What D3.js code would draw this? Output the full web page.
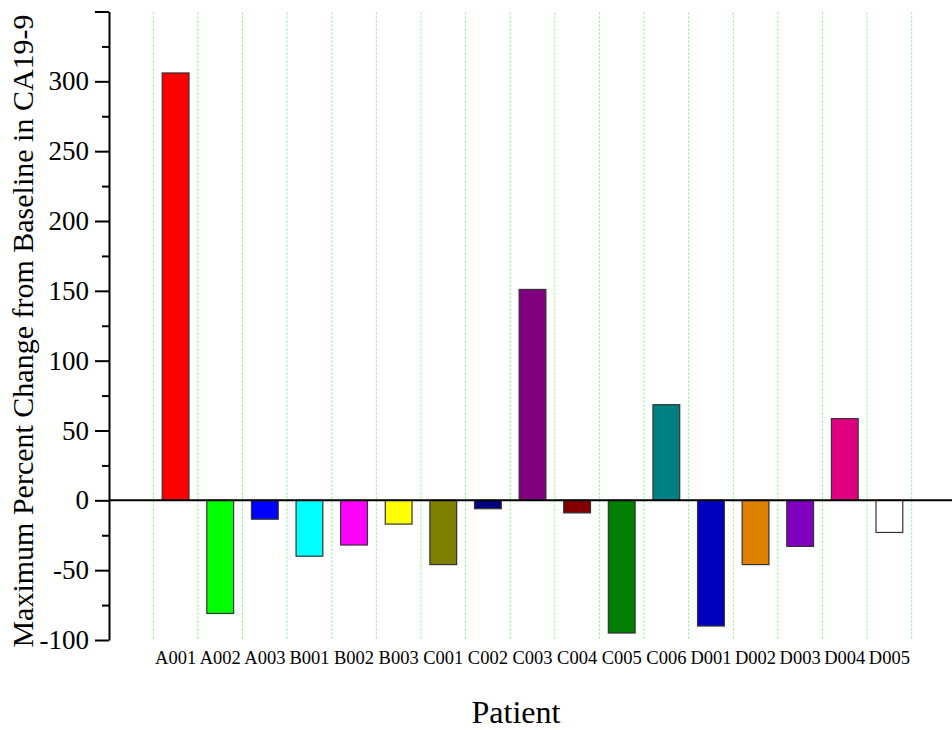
<!DOCTYPE html>
<html>
<head>
<meta charset="utf-8">
<script src="https://cdn.jsdelivr.net/npm/d3@7"></script>
<style>
  body { margin: 0; background: #fff; }
  svg { display: block; }
</style>
</head>
<body>
<svg id="chart" width="952" height="730"></svg>
<script>
// data
const patients = ['A001', 'A002', 'A003', 'B001', 'B002', 'B003', 'C001', 'C002', 'C003',
  'C004', 'C005', 'C006', 'D001', 'D002', 'D003', 'D004', 'D005'];
const changes = [306, -81, -13.5, -40, -32, -17, -46, -6, 151, -9, -95, 68.5, -90, -46, -33, 58.5, -23];
const barColors = ['#ff0000', '#00ff00', '#0000ff', '#00ffff', '#ff00ff', '#ffff00', '#808000', '#000080',
  '#800080', '#800000', '#008000', '#008080', '#0000c0', '#e08000', '#8000c0', '#e0007f', '#ffffff'];
const majorTicks = [-100, -50, 0, 50, 100, 150, 200, 250, 300, 350];
const minorTicks = [-75, -25, 25, 75, 125, 175, 225, 275, 325];

const serif = '"Liberation Serif", "Times New Roman", serif';
const data = patients.map((p, i) => ({ patient: p, value: changes[i], color: barColors[i] }));

const svg = d3.select('#chart');
const axisX = 109;

const x = d3.scaleBand().domain(patients).range([153.3, 911.7]).paddingInner(0.4).paddingOuter(0.2);
const y = d3.scaleLinear().domain([-100, 350]).range([640, 11.5]);

// dotted green grid lines between patients
const gridX = patients.map(p => x(p) - x.step() * 0.2).concat([911.7]);
svg.append('g').selectAll('line')
  .data(gridX)
  .enter()
  .append('line')
  .attr('x1', d => d).attr('x2', d => d)
  .attr('y1', y(350) + 1).attr('y2', y(-100))
  .attr('stroke', '#80f080')
  .attr('stroke-width', 1)
  .attr('stroke-dasharray', '2,2');

// bars
svg.append('g').selectAll('rect')
  .data(data)
  .enter()
  .append('rect')
  .attr('x', d => x(d.patient))
  .attr('width', x.bandwidth())
  .attr('y', d => y(Math.max(0, d.value)))
  .attr('height', d => Math.abs(y(d.value) - y(0)))
  .attr('fill', d => d.color)
  .attr('stroke', '#333')
  .attr('stroke-width', 1.2);

// zero line
svg.append('line')
  .attr('x1', axisX).attr('x2', 952)
  .attr('y1', y(0)).attr('y2', y(0))
  .attr('stroke', '#000')
  .attr('stroke-width', 2);

// y axis, major and minor ticks
const yMajor = svg.append('g')
  .attr('transform', `translate(${axisX},0)`)
  .call(d3.axisLeft(y).tickValues(majorTicks).tickSize(14).tickSizeOuter(0).tickPadding(6)
    .tickFormat(d => (d === 350 ? '' : d)));
yMajor.select('.domain').attr('stroke-width', 2);
yMajor.selectAll('.tick line').attr('stroke-width', 2);
yMajor.selectAll('.tick text').attr('font-size', 27).attr('font-family', serif).attr('fill', '#000');

const yMinor = svg.append('g')
  .attr('transform', `translate(${axisX},0)`)
  .call(d3.axisLeft(y).tickValues(minorTicks).tickSize(7).tickSizeOuter(0).tickFormat(''));
yMinor.select('.domain').remove();
yMinor.selectAll('.tick line').attr('stroke-width', 2);

// patient labels along the bottom
const xLabels = svg.append('g')
  .attr('transform', `translate(0,${y(-100)})`)
  .call(d3.axisBottom(x).tickSize(0).tickPadding(11));
xLabels.select('.domain').remove();
xLabels.selectAll('.tick text').attr('font-size', 18.5).attr('font-family', serif).attr('fill', '#000');

// axis titles
svg.append('text')
  .attr('transform', 'translate(33,331) rotate(-90)')
  .attr('text-anchor', 'middle')
  .attr('font-family', serif)
  .attr('font-size', 30)
  .text('Maximum Percent Change from Baseline in CA19-9');

svg.append('text')
  .attr('x', 516)
  .attr('y', 723)
  .attr('text-anchor', 'middle')
  .attr('font-family', serif)
  .attr('font-size', 32)
  .text('Patient');
</script>
</body>
</html>
